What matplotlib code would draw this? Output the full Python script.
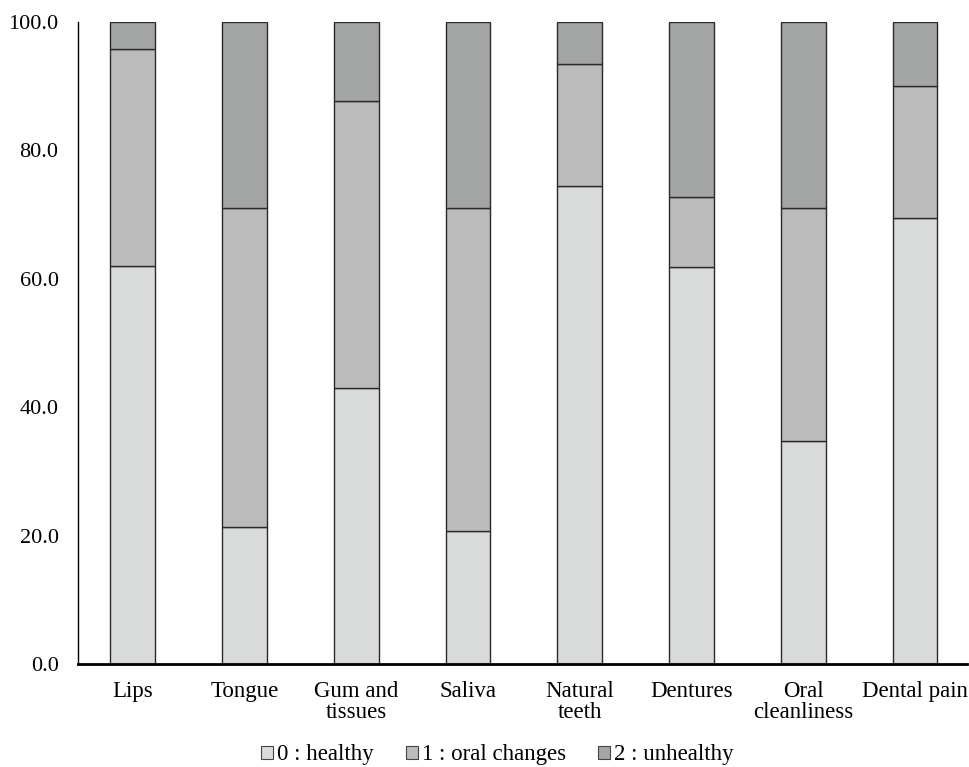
import numpy as np
import matplotlib
matplotlib.use('Agg')
import matplotlib.pyplot as plt
from matplotlib.patches import Patch

plt.rcParams['font.family'] = ['Liberation Serif', 'DejaVu Serif']

categories = ['Lips', 'Tongue', 'Gum and\ntissues', 'Saliva', 'Natural\nteeth',
              'Dentures', 'Oral\ncleanliness', 'Dental pain']
healthy = [62.0, 21.3, 43.0, 20.7, 74.4, 61.9, 34.7, 69.4]
oral_changes = [33.8, 49.7, 44.7, 50.3, 19.0, 10.8, 36.3, 20.7]
unhealthy = [4.2, 29.0, 12.3, 29.0, 6.6, 27.3, 29.0, 9.9]
series_names = ['0 : healthy', '1 : oral changes', '2 : unhealthy']
colors = ['#D9DBDA', '#BBBBBB', '#A4A6A5']

fig = plt.figure(figsize=(9.7, 7.67), dpi=100)
ax = fig.add_axes([0.0804, 0.1343, 0.917, 0.837])

x = np.arange(len(categories))
bottom = np.zeros(len(categories))
for vals, name, c in zip([healthy, oral_changes, unhealthy], series_names, colors):
    ax.bar(x, vals, width=0.4, bottom=bottom, color=c, edgecolor='#2a2a2a',
           linewidth=1.0, label=name, zorder=2)
    bottom += np.array(vals)

ax.set_xlim(-0.49, 7.47)
ax.set_ylim(0, 100)
ax.set_yticks(np.arange(0, 101, 20))
ax.set_yticklabels(['%.1f' % v for v in np.arange(0, 101, 20)], fontsize=16)
ax.set_xticks(x)
ax.set_xticklabels(categories, fontsize=16.5, linespacing=1.05)
ax.tick_params(axis='y', length=0, pad=14)
ax.tick_params(axis='x', length=0, pad=12)

for s in ['top', 'right']:
    ax.spines[s].set_visible(False)
ax.spines['left'].set_linewidth(1.0)
ax.spines['bottom'].set_linewidth(2.0)
ax.spines['left'].set_color('black')
ax.spines['bottom'].set_color('black')

handles = [Patch(facecolor=c, edgecolor='#444444', linewidth=0.8, label=n)
           for c, n in zip(colors, series_names)]
fig.legend(handles=handles, loc='center', bbox_to_anchor=(0.513, 0.016),
           ncol=3, frameon=False, fontsize=16.5, handlelength=0.5, handleheight=0.5,
           handletextpad=0.2, columnspacing=1.4, borderpad=0)

fig.savefig('out.png', dpi=100)
